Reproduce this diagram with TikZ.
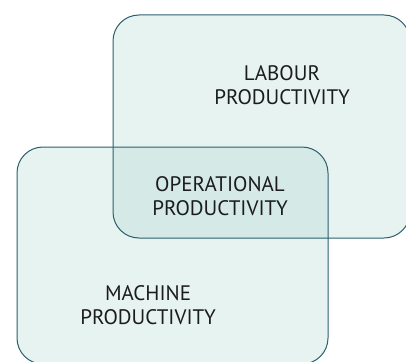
\documentclass[tikz,border=0pt]{standalone}
\usepackage{fontspec}
\setmainfont{PT Sans}
\definecolor{boxfill}{HTML}{E7F3F1}
\definecolor{overlapfill}{HTML}{D5E9E6}
\definecolor{boxline}{HTML}{2B5F6E}
\definecolor{txt}{HTML}{1C1C1C}
\begin{document}
\begin{tikzpicture}[x=1pt,y=-1pt,
  boxedge/.style={draw=boxline,line width=1pt,rounded corners=26pt},
  lbl/.style={align=center,inner sep=0pt,text=txt,font=\fontsize{21}{24}\selectfont}]
\useasboundingbox (0,0) rectangle (406,361);
\def\toprect{(113,15) rectangle (410,238)}
\def\botrect{(17,147) rectangle (328,364)}
\fill[boxfill,rounded corners=26pt] \toprect;
\fill[boxfill,rounded corners=26pt] \botrect;
\begin{scope}
  \clip[rounded corners=26pt] \toprect;
  \fill[overlapfill,rounded corners=26pt] \botrect;
\end{scope}
\draw[boxedge] \toprect;
\draw[boxedge] \botrect;
\node[lbl] (labour) at (282,85) {LABOUR\\PRODUCTIVITY};
\node[lbl] (oper) at (220,196) {OPERATIONAL\\PRODUCTIVITY};
\node[lbl] (machine) at (148,305.5) {MACHINE\\PRODUCTIVITY};
\end{tikzpicture}
\end{document}
